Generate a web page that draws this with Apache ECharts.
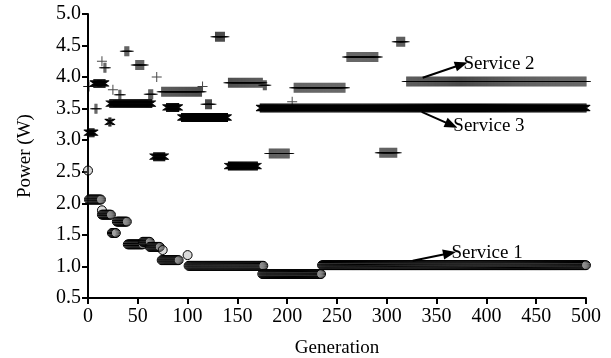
<!DOCTYPE html>
<html>
<head>
<meta charset="utf-8">
<script src="https://cdn.jsdelivr.net/npm/echarts@6/dist/echarts.min.js"></script>
<style>html,body{margin:0;padding:0;background:#fff}#c{width:611px;height:358px}</style>
</head>
<body>
<div id="c"></div>
<script>
// Runs: [first generation, last generation, power (W)]
const service1Runs = [
  [0, 0, 2.52], [1, 13, 2.06], [14, 14, 1.89], [14, 23, 1.82], [24, 28, 1.53],
  [29, 39, 1.71], [40, 55, 1.35], [55, 62, 1.39], [62, 72, 1.31], [75, 75, 1.26],
  [74, 91, 1.10], [100, 100, 1.18], [101, 176, 1.01], [175, 234, 0.88], [235, 500, 1.02]
];
const service2Runs = [
  [0, 1, 3.85], [7, 9, 3.50], [14, 14, 4.25], [16, 18, 4.15], [25, 25, 3.80],
  [31, 33, 3.72], [37, 41, 4.41], [48, 56, 4.19], [61, 65, 3.73], [69, 69, 4.00],
  [74, 114, 3.77], [115, 115, 3.85], [118, 124, 3.57], [128, 137, 4.64],
  [141, 175, 3.91], [176, 179, 3.87], [182, 202, 2.79], [205, 205, 3.61],
  [207, 258, 3.83], [260, 291, 4.32], [293, 310, 2.80], [310, 318, 4.56], [320, 500, 3.93]
];
const service3Runs = [
  [0, 6, 3.12], [6, 17, 3.90], [21, 23, 3.29], [22, 64, 3.58], [66, 77, 2.74],
  [79, 91, 3.52], [94, 140, 3.36], [141, 170, 2.59], [173, 500, 3.51]
];
const xTicks = [0, 50, 100, 150, 200, 250, 300, 350, 400, 450, 500];
const yTicks = [0.5, 1.0, 1.5, 2.0, 2.5, 3.0, 3.5, 4.0, 4.5, 5.0];
// Annotation arrows: [from gen, from power, to gen, to power, text]
const annotations = [
  [336, 3.99, 375, 4.20, 'Service 2'],
  [335, 3.45, 365, 3.24, 'Service 3'],
  [326, 1.09, 363, 1.21, 'Service 1']
];

function expand(runs) {
  const pts = [];
  runs.forEach(r => { for (let g = r[0]; g <= r[1]; g++) pts.push([g, r[2]]); });
  return pts;
}

const FONT = 'Liberation Serif';
const chart = echarts.init(document.getElementById('c'), null, {renderer: 'canvas'});

const plusPath = 'path://M0,4.5h10v1h-10z M4.5,0h1v10h-1z';
const starPath = 'path://M4.4,0h1.2v10h-1.2z M0.3,2.2l0.6,-1l8.8,6.6l-0.6,1z M0.3,7.8l0.6,1l8.8,-6.6l-0.6,-1z';

const arrowLines = annotations.map(a => ([
  {coord: [a[0], a[1]]},
  {coord: [a[2], a[3]], label: {formatter: a[4]}}
]));

chart.setOption({
  animation: false,
  grid: {left: 88, right: 25, top: 14, bottom: 60, containLabel: false, outerBoundsMode: 'none'},
  xAxis: {
    type: 'value', min: 0, max: 500, interval: 50,
    name: 'Generation', nameLocation: 'middle', nameGap: 41,
    nameTextStyle: {fontFamily: FONT, fontSize: 19, color: '#000'},
    axisLine: {show: true, onZero: false, lineStyle: {color: '#000', width: 2}},
    axisTick: {show: true, inside: false, length: 6, lineStyle: {color: '#000', width: 2}},
    axisLabel: {fontFamily: FONT, fontSize: 20, color: '#000', margin: 9,
      formatter: v => xTicks.includes(v) ? String(v) : ''},
    splitLine: {show: false}
  },
  yAxis: {
    type: 'value', min: 0.5, max: 5.0, interval: 0.5,
    name: 'Power (W)', nameLocation: 'middle', nameGap: 53,
    nameTextStyle: {fontFamily: FONT, fontSize: 19, color: '#000'},
    axisLine: {show: true, onZero: false, lineStyle: {color: '#000', width: 2}},
    axisTick: {show: true, inside: false, length: 6, lineStyle: {color: '#000', width: 2}},
    axisLabel: {fontFamily: FONT, fontSize: 20, color: '#000', margin: 7,
      formatter: v => { const t = yTicks.find(y => Math.abs(y - v) < 1e-6); return t !== undefined ? t.toFixed(1) : ''; }},
    splitLine: {show: false}
  },
  series: [
    {
      name: 'Service 1', type: 'scatter', data: expand(service1Runs),
      symbol: 'circle', symbolSize: 9,
      itemStyle: {color: 'rgba(150,150,150,0.35)', borderColor: '#000', borderWidth: 1, opacity: 1},
      z: 3
    },
    {
      name: 'Service 2', type: 'scatter', data: expand(service2Runs),
      symbol: plusPath, symbolSize: 10,
      itemStyle: {color: '#000', opacity: 0.72},
      z: 2
    },
    {
      name: 'Service 3', type: 'scatter', data: expand(service3Runs),
      symbol: starPath, symbolSize: 9,
      itemStyle: {color: '#000', opacity: 1},
      z: 4
    },
    {
      name: 'annotations', type: 'scatter', data: [],
      markLine: {
        silent: true, animation: false,
        symbol: ['none', 'triangle'], symbolSize: [10, 13],
        lineStyle: {color: '#000', width: 2, type: 'solid'},
        itemStyle: {color: '#000'},
        label: {show: true, position: 'end', distance: 2, fontFamily: FONT, fontSize: 19, color: '#000'},
        emphasis: {disabled: true},
        data: arrowLines
      },
      z: 5
    }
  ]
});
</script>
</body>
</html>
